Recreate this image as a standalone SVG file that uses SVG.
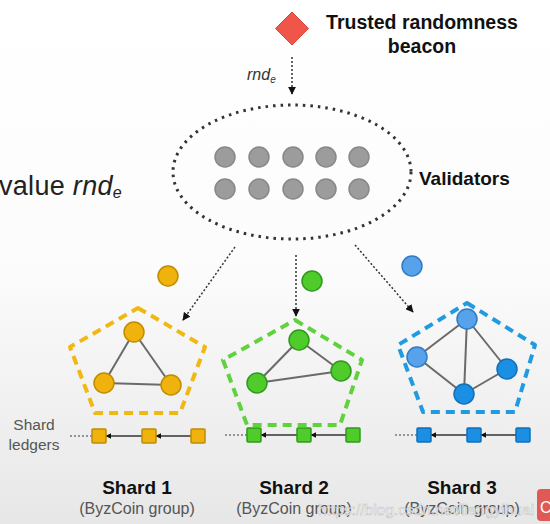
<svg xmlns="http://www.w3.org/2000/svg" width="550" height="524" viewBox="0 0 550 524">
<defs>
<linearGradient id="bg" x1="0" y1="0" x2="0" y2="1">
<stop offset="0" stop-color="#ffffff"/>
<stop offset="0.5" stop-color="#fcfcfc"/>
<stop offset="1" stop-color="#e7e7e7"/>
</linearGradient>
<marker id="ah" viewBox="0 0 10 10" refX="9" refY="5" markerWidth="8" markerHeight="8" markerUnits="userSpaceOnUse" orient="auto">
<path d="M0,0 L10,5 L0,10 Z" fill="#111"/>
</marker>
<marker id="la" viewBox="0 0 10 10" refX="9" refY="5" markerWidth="6" markerHeight="6" markerUnits="userSpaceOnUse" orient="auto">
<path d="M0,0 L10,5 L0,10 Z" fill="#111"/>
</marker>
<style>
.sans{font-family:"Liberation Sans",Arial,Helvetica,sans-serif}
.bold{font-weight:bold;fill:#111}
.dot{fill:none;stroke:#333;stroke-width:1.5;stroke-dasharray:2 2}
.val{fill:#9c9c9c;stroke:#888;stroke-width:1.5}
.edge{stroke:#6a6a6a;stroke-width:2;fill:none}
.chain{stroke:#333;stroke-width:1.6;fill:none}
.lead{stroke:#777;stroke-width:1.5;stroke-dasharray:2 2;fill:none}
.pent{fill:none;stroke-width:4;stroke-dasharray:9 6;stroke-linejoin:round}
.o{fill:#f0b20c;stroke:#c08c00;stroke-width:1.5}
.g{fill:#4fcb2c;stroke:#2f9a1a;stroke-width:1.5}
.b{fill:#1b8fe3;stroke:#1070b8;stroke-width:1.5}
.bl{fill:#57a2ea;stroke:#2f7cc4;stroke-width:1.5}
.lbl{fill:#555}
</style>
</defs>
<rect width="550" height="524" fill="url(#bg)"/>

<g id="beacon">
<polygon points="292,12 308.5,28.5 292,45 275.5,28.5" fill="#f0554a" stroke="#d8443a" stroke-width="1"/>
<text class="sans bold" x="422" y="28.5" font-size="19.5" text-anchor="middle">Trusted randomness</text>
<text class="sans bold" x="422" y="53" font-size="19.5" text-anchor="middle">beacon</text>
</g>

<g id="caption">
<text class="sans" x="-1" y="195" font-size="27" fill="#222" letter-spacing="0.3">value <tspan font-style="italic">rnd</tspan><tspan font-style="italic" font-size="16" dy="3">e</tspan></text>
</g>

<g id="validators">
<ellipse cx="292" cy="172" rx="119" ry="67" fill="none" stroke="#333" stroke-width="3" stroke-dasharray="2.5 5"/>
<circle class="val" cx="225" cy="157" r="10"/>
<circle class="val" cx="259" cy="157" r="10"/>
<circle class="val" cx="293" cy="157" r="10"/>
<circle class="val" cx="326" cy="157" r="10"/>
<circle class="val" cx="359" cy="157" r="10"/>
<circle class="val" cx="225" cy="189" r="10"/>
<circle class="val" cx="259" cy="189" r="10"/>
<circle class="val" cx="293" cy="189" r="10"/>
<circle class="val" cx="326" cy="189" r="10"/>
<circle class="val" cx="359" cy="189" r="10"/>
<text class="sans bold" x="419" y="185" font-size="19">Validators</text>
</g>

<g id="connectors">
<line class="dot" x1="292" y1="57" x2="292" y2="94" marker-end="url(#ah)"/>
<text class="sans" x="247" y="80" font-size="16" font-style="italic" fill="#333">rnd<tspan font-size="10" dy="3">e</tspan></text>
<line class="dot" x1="235" y1="247" x2="183" y2="320" marker-end="url(#ah)"/>
<line class="dot" x1="296" y1="255" x2="296" y2="316" marker-end="url(#ah)"/>
<line class="dot" x1="355" y1="245" x2="413" y2="312" marker-end="url(#ah)"/>
</g>

<g id="shard1">
<circle class="o" cx="168" cy="276" r="10"/>
<polygon class="pent" stroke="#f0b812" points="138,308 205,347 180,413 95,413 70,347"/>
<line class="edge" x1="134" y1="332" x2="104" y2="383"/>
<line class="edge" x1="134" y1="332" x2="171" y2="385"/>
<line class="edge" x1="104" y1="383" x2="171" y2="385"/>
<circle class="o" cx="134" cy="332" r="10"/>
<circle class="o" cx="104" cy="383" r="10"/>
<circle class="o" cx="171" cy="385" r="10"/>
<line class="lead" x1="70" y1="436" x2="92" y2="436"/>
<line class="chain" x1="142" y1="436" x2="106" y2="436" marker-end="url(#la)"/>
<line class="chain" x1="191" y1="436" x2="156" y2="436" marker-end="url(#la)"/>
<rect class="o" x="92" y="429" width="14" height="14" rx="1"/>
<rect class="o" x="142" y="429" width="14" height="14" rx="1"/>
<rect class="o" x="191" y="429" width="14" height="14" rx="1"/>
<text class="sans bold" x="137" y="494" font-size="19" text-anchor="middle">Shard 1</text>
<text class="sans lbl" x="137" y="514" font-size="16" text-anchor="middle">(ByzCoin group)</text>
</g>

<g id="shard2">
<circle class="g" cx="312" cy="281" r="10"/>
<polygon class="pent" stroke="#5fd23e" points="295,320 362,360 340,425 247,425 223,360"/>
<line class="edge" x1="299" y1="340" x2="257" y2="383"/>
<line class="edge" x1="299" y1="340" x2="341" y2="371"/>
<line class="edge" x1="257" y1="383" x2="341" y2="371"/>
<circle class="g" cx="299" cy="340" r="10"/>
<circle class="g" cx="257" cy="383" r="10"/>
<circle class="g" cx="341" cy="371" r="10"/>
<line class="lead" x1="225" y1="435" x2="247" y2="435"/>
<line class="chain" x1="297" y1="435" x2="261" y2="435" marker-end="url(#la)"/>
<line class="chain" x1="346" y1="435" x2="311" y2="435" marker-end="url(#la)"/>
<rect class="g" x="247" y="428" width="14" height="14" rx="1"/>
<rect class="g" x="297" y="428" width="14" height="14" rx="1"/>
<rect class="g" x="346" y="428" width="14" height="14" rx="1"/>
<text class="sans bold" x="294" y="494" font-size="19" text-anchor="middle">Shard 2</text>
<text class="sans lbl" x="294" y="514" font-size="16" text-anchor="middle">(ByzCoin group)</text>
</g>

<g id="shard3">
<circle class="bl" cx="412" cy="266" r="10"/>
<polygon class="pent" stroke="#1f9be0" points="467,303 535,345 515,412 423,412 398,345"/>
<line class="edge" x1="467" y1="319" x2="417" y2="357"/>
<line class="edge" x1="467" y1="319" x2="507" y2="369"/>
<line class="edge" x1="467" y1="319" x2="464" y2="394"/>
<line class="edge" x1="417" y1="357" x2="464" y2="394"/>
<line class="edge" x1="464" y1="394" x2="507" y2="369"/>
<circle class="bl" cx="467" cy="319" r="10"/>
<circle class="bl" cx="417" cy="357" r="10"/>
<circle class="b" cx="507" cy="369" r="10"/>
<circle class="b" cx="464" cy="394" r="10"/>
<line class="lead" x1="395" y1="435" x2="417" y2="435"/>
<line class="chain" x1="467" y1="435" x2="431" y2="435" marker-end="url(#la)"/>
<line class="chain" x1="516" y1="435" x2="481" y2="435" marker-end="url(#la)"/>
<rect class="b" x="417" y="428" width="14" height="14" rx="1"/>
<rect class="b" x="467" y="428" width="14" height="14" rx="1"/>
<rect class="b" x="516" y="428" width="14" height="14" rx="1"/>
<text class="sans bold" x="462" y="494" font-size="19" text-anchor="middle">Shard 3</text>
<text class="sans lbl" x="462" y="514" font-size="16" text-anchor="middle">(ByzCoin group)</text>
</g>

<g id="ledger-label">
<text class="sans lbl" x="34" y="430" font-size="15.5" text-anchor="middle">Shard</text>
<text class="sans lbl" x="34" y="450" font-size="15.5" text-anchor="middle">ledgers</text>
</g>

<g id="watermark">
<text class="sans" x="318" y="515" font-size="15.5" fill="#ffffff" fill-opacity="0.9" stroke="#bbbbbb" stroke-width="0.5">https://blog.csdn.net/liangyihuai</text>
<rect x="537" y="489" width="20" height="32" rx="4" fill="#e05a55"/>
<text class="sans" x="540" y="513" font-size="16" fill="#ffffff">C</text>
</g>
</svg>
